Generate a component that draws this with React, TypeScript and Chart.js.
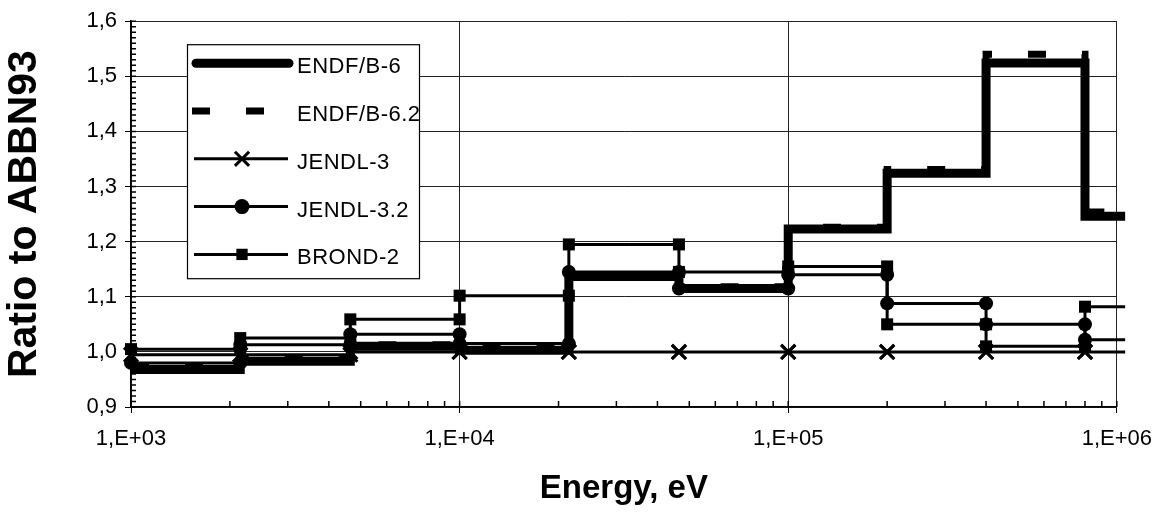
import React, { useEffect, useRef } from 'react';
import { Chart, registerables } from 'chart.js';

Chart.register(...registerables);

// Energy group boundaries (eV) of the ABBN-93 group structure shown
const GROUP_EDGES = [1e3, 2.15e3, 4.65e3, 1e4, 2.15e4, 4.65e4, 1e5, 2e5, 4e5, 8e5, 1.06e6];

// Ratio to ABBN93 for each energy group
const ENDF_B6 = [0.968, 0.983, 1.01, 1.003, 1.137, 1.115, 1.223, 1.324, 1.524, 1.246];
const ENDF_B62 = [0.972, 0.987, 1.013, 1.006, 1.14, 1.118, 1.226, 1.331, 1.54, 1.254];
const JENDL3 = [0.995, 0.995, 1.0, 1.0, 1.0, 1.0, 1.0, 1.0, 1.0, 1.0];
const JENDL32 = [0.98, 1.013, 1.032, 1.015, 1.145, 1.115, 1.14, 1.088, 1.05, 1.022];
const BROND2 = [1.005, 1.025, 1.059, 1.102, 1.195, 1.145, 1.155, 1.05, 1.01, 1.082];

const SERIES_NAMES = ['ENDF/B-6', 'ENDF/B-6.2', 'JENDL-3', 'JENDL-3.2', 'BROND-2'];

const X_MIN = 1e3;
const X_MAX = 1e6;
const X_TICKS = [1e3, 1e4, 1e5, 1e6];
const X_TICK_LABELS = ['1,E+03', '1,E+04', '1,E+05', '1,E+06'];
const X_MINOR_MULTIPLES = [2, 3, 4, 5, 6, 7, 8, 9];
const Y_MIN = 0.9;
const Y_MAX = 1.6;
const Y_TICKS = [0.9, 1.0, 1.1, 1.2, 1.3, 1.4, 1.5, 1.6];
const Y_TICK_LABELS = ['0,9', '1,0', '1,1', '1,2', '1,3', '1,4', '1,5', '1,6'];
const Y_MINOR_STEP = 0.01;
const X_TITLE = 'Energy, eV';
const Y_TITLE = 'Ratio to ABBN93';

const FONT = '"Liberation Sans", Arial, Helvetica, sans-serif';

function steps(vals: number[]) {
  const pts: { x: number; y: number }[] = [];
  vals.forEach((v, i) => {
    pts.push({ x: GROUP_EDGES[i], y: v });
    pts.push({ x: GROUP_EDGES[i + 1], y: v });
  });
  return pts;
}

function drawMarker(ctx: CanvasRenderingContext2D, style: string, x: number, y: number, r: number) {
  ctx.save();
  ctx.fillStyle = '#000';
  ctx.strokeStyle = '#000';
  ctx.setLineDash([]);
  if (style === 'circle') {
    ctx.beginPath();
    ctx.arc(x, y, r, 0, Math.PI * 2);
    ctx.fill();
  } else if (style === 'rect') {
    const s = r * Math.SQRT1_2;
    ctx.fillRect(x - s, y - s, 2 * s, 2 * s);
  } else if (style === 'crossRot') {
    const o = r * Math.SQRT1_2;
    ctx.lineWidth = 3;
    ctx.beginPath();
    ctx.moveTo(x - o, y - o);
    ctx.lineTo(x + o, y + o);
    ctx.moveTo(x - o, y + o);
    ctx.lineTo(x + o, y - o);
    ctx.stroke();
  }
  ctx.restore();
}

// inside minor tick marks, positioned through the chart's own scales
const minorTicksPlugin = {
  id: 'minorTicks',
  afterDraw(chart: any) {
    const { ctx, chartArea, scales } = chart;
    ctx.save();
    ctx.strokeStyle = '#000';
    ctx.lineWidth = 1.5;
    ctx.setLineDash([]);
    ctx.beginPath();
    const ny = Math.round((Y_MAX - Y_MIN) / Y_MINOR_STEP);
    for (let k = 0; k <= ny; k++) {
      const py = scales.y.getPixelForValue(Y_MIN + k * Y_MINOR_STEP);
      ctx.moveTo(chartArea.left, py);
      ctx.lineTo(chartArea.left + 5, py);
    }
    for (let d = X_MIN; d <= X_MAX; d *= 10) {
      const mults = d < X_MAX ? [1, ...X_MINOR_MULTIPLES] : [1];
      mults.forEach((m) => {
        const px = scales.x.getPixelForValue(d * m);
        ctx.moveTo(px, chartArea.bottom);
        ctx.lineTo(px, chartArea.bottom - 6);
      });
    }
    ctx.stroke();
    ctx.restore();
  },
};

const legendPlugin = {
  id: 'boxLegend',
  afterDraw(chart: any) {
    const { ctx, chartArea } = chart;
    const left = chartArea.left + 56;
    const top = chartArea.top + 23;
    const w = 232;
    const h = 234;
    ctx.save();
    ctx.fillStyle = '#fff';
    ctx.fillRect(left, top, w, h);
    ctx.strokeStyle = '#000';
    ctx.lineWidth = 1.2;
    ctx.strokeRect(left + 0.5, top + 0.5, w, h);
    chart.data.datasets.forEach((ds: any, i: number) => {
      const y = top + 19 + i * 47.8;
      const thick = ds.borderWidth > 5;
      const x0 = left + (thick ? 9 : 7);
      const x1 = left + (thick ? 102 : 101);
      const xm = left + 55;
      ctx.save();
      ctx.strokeStyle = '#000';
      ctx.lineWidth = ds.borderWidth;
      ctx.setLineDash(ds.borderDash || []);
      ctx.lineCap = ds.borderDash ? 'butt' : thick ? 'round' : 'butt';
      ctx.beginPath();
      ctx.moveTo(ds.borderDash ? left + 5 : x0, y);
      ctx.lineTo(x1, y);
      ctx.stroke();
      ctx.restore();
      if (ds.legendMarker) drawMarker(ctx, ds.legendMarker, xm, y, ds.legendRadius);
      ctx.fillStyle = '#000';
      ctx.font = `22px ${FONT}`;
      try {
        (ctx as any).letterSpacing = '0.5px';
      } catch (e) {
        /* ignore */
      }
      ctx.textAlign = 'left';
      ctx.textBaseline = 'middle';
      ctx.fillText(ds.label, left + 110, y + 4);
      try {
        (ctx as any).letterSpacing = '0px';
      } catch (e) {
        /* ignore */
      }
    });
    ctx.restore();
  },
};

export default function App() {
  const ref = useRef<HTMLCanvasElement | null>(null);

  useEffect(() => {
    if (!ref.current) return;
    const radius = (r: number) => (c: any) => (c.raw && c.raw.x > X_MAX ? 0 : r);
    const base = {
      borderColor: '#000',
      backgroundColor: '#000',
      tension: 0,
      clip: false as any,
      borderJoinStyle: 'miter' as const,
      borderCapStyle: 'butt' as const,
      pointBorderColor: '#000',
      pointBackgroundColor: '#000',
    };
    const chart = new Chart(ref.current, {
      type: 'line',
      data: {
        datasets: [
          { ...base, label: SERIES_NAMES[0], data: steps(ENDF_B6), borderWidth: 9, pointRadius: 0 },
          { ...base, label: SERIES_NAMES[1], data: steps(ENDF_B62), borderWidth: 7, borderDash: [18, 36], pointRadius: 0 },
          {
            ...base, label: SERIES_NAMES[2], data: steps(JENDL3), borderWidth: 3,
            pointStyle: 'crossRot', pointRadius: radius(10), pointBorderWidth: 3,
            legendMarker: 'crossRot', legendRadius: 10,
          } as any,
          {
            ...base, label: SERIES_NAMES[3], data: steps(JENDL32), borderWidth: 3,
            pointStyle: 'circle', pointRadius: radius(7), pointBorderWidth: 0,
            legendMarker: 'circle', legendRadius: 7.5,
          } as any,
          {
            ...base, label: SERIES_NAMES[4], data: steps(BROND2), borderWidth: 3,
            pointStyle: 'rect', pointRadius: radius(8.5), pointBorderWidth: 0,
            legendMarker: 'rect', legendRadius: 8,
          } as any,
        ],
      },
      options: {
        animation: false,
        responsive: false,
        devicePixelRatio: 1,
        events: [],
        layout: { padding: { top: 20, right: 46, left: 0, bottom: 0 } },
        plugins: { legend: { display: false }, tooltip: { enabled: false } },
        scales: {
          x: {
            type: 'logarithmic',
            position: 'bottom',
            min: X_MIN,
            max: X_MAX,
            afterBuildTicks: (s: any) => {
              s.ticks = X_TICKS.map((v) => ({ value: v, major: true }));
            },
            afterFit: (s: any) => {
              s.height = 110;
            },
            ticks: {
              autoSkip: false,
              maxRotation: 0,
              padding: 13,
              color: '#000',
              font: { family: FONT, size: 22 },
              callback: (v: any) => X_TICK_LABELS[X_TICKS.indexOf(Number(v))] ?? '',
            },
            grid: { color: '#222', lineWidth: 1, tickLength: 6, tickColor: '#000' },
            border: { color: '#000', width: 1.5 },
            title: {
              display: true,
              text: X_TITLE,
              color: '#000',
              font: { family: FONT, size: 33, weight: 'bold' },
              padding: { top: 0, bottom: 8 },
            },
          },
          y: {
            type: 'linear',
            position: 'left',
            min: Y_MIN,
            max: Y_MAX,
            afterBuildTicks: (s: any) => {
              s.ticks = Y_TICKS.map((v) => ({ value: v }));
            },
            afterFit: (s: any) => {
              s.width = 131;
            },
            ticks: {
              padding: 8,
              color: '#000',
              font: { family: FONT, size: 22 },
              callback: (v: any) => Y_TICK_LABELS[Y_TICKS.findIndex((t) => Math.abs(t - Number(v)) < 1e-6)] ?? '',
            },
            grid: { color: '#222', lineWidth: 1, tickLength: 6, tickColor: '#000' },
            border: { color: '#000', width: 1.5 },
            title: {
              display: true,
              text: Y_TITLE,
              color: '#000',
              font: { family: FONT, size: 41, weight: 'bold' },
              padding: { top: 0, bottom: 0 },
            },
          },
        },
      } as any,
      plugins: [minorTicksPlugin, legendPlugin],
    });
    return () => chart.destroy();
  }, []);

  return (
    <div style={{ position: 'fixed', left: 0, top: 0, width: 1165, height: 517, background: '#fff' }}>
      <canvas ref={ref} width={1165} height={517} style={{ display: 'block', width: 1165, height: 517 }} />
    </div>
  );
}
